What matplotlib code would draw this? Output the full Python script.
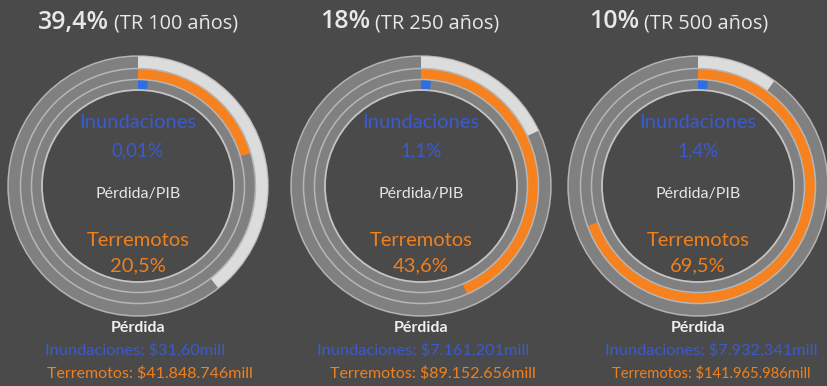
import matplotlib
matplotlib.use("Agg")
import matplotlib.pyplot as plt
from matplotlib.patches import Wedge, Circle

# data
prob_pct = ["39,4%", "18%", "10%"]
prob_vals = [39.4, 18.0, 10.0]
return_periods = [100, 250, 500]
terremotos_pib = [20.5, 43.6, 69.5]
inundaciones_pib = [0.01, 1.1, 1.4]
terremotos_txt = ["20,5%", "43,6%", "69,5%"]
inundaciones_txt = ["0,01%", "1,1%", "1,4%"]
perdida_inund = ["Inundaciones: $31,60mill", "Inundaciones: $7.161,201mill", "Inundaciones: $7.932,341mill"]
perdida_terr = ["Terremotos: $41.848.746mill", "Terremotos: $89.152.656mill", "Terremotos: $141.965.986mill"]

BG = "#4a4a4a"
RING = "#808080"
LIGHT = "#dcdcdc"
ORANGE = "#f5821f"
BLUE = "#2f6ee0"
EDGE = "#c4c4c4"
TXT_BLUE = "#3a5ad0"
TXT_OR = "#f0801e"

plt.rcParams['font.family'] = ['Lato', 'DejaVu Sans']

fig = plt.figure(figsize=(8.27, 3.86), dpi=100)
fig.patch.set_facecolor(BG)
ax = fig.add_axes([0, 0, 1, 1])
ax.set_xlim(0, 827)
ax.set_ylim(386, 0)
ax.set_aspect('equal')
ax.axis('off')

centers = [(138, 186), (421, 186), (698, 186)]
title_x = [38, 320, 589]
inund_x = [135, 423, 711]
terr_x = [47, 330, 612]
terr_size = [11.5, 11.5, 10.6]
R = 130


def ring(cx, cy, r_out, width, sweep, color):
    # clockwise from 12 o'clock (y axis inverted)
    ax.add_patch(Wedge((cx, cy), r_out, -90, 270, width=width, facecolor=RING, edgecolor='none'))
    if sweep > 0:
        ax.add_patch(Wedge((cx, cy), r_out, -90, -90 + sweep * 3.6, width=width,
                           facecolor=color, edgecolor='none'))


fig.canvas.draw()
renderer = fig.canvas.get_renderer()

for i, (cx, cy) in enumerate(centers):
    ax.add_patch(Circle((cx, cy), R, facecolor=RING, edgecolor='none'))
    ring(cx, cy, R, 12, prob_vals[i], LIGHT)
    ring(cx, cy, R - 13, 10, terremotos_pib[i], ORANGE)
    ring(cx, cy, R - 24, 10, max(inundaciones_pib[i], 1.5), BLUE)
    ax.add_patch(Circle((cx, cy), R - 34, facecolor=BG, edgecolor=EDGE, lw=1.3))
    for rr in (R, R - 12.5, R - 23.5):
        ax.add_patch(Circle((cx, cy), rr, facecolor='none', edgecolor=EDGE, lw=1.1, alpha=0.8))

    # title
    t1 = ax.text(title_x[i], 22, prob_pct[i], color="#e8e8e8", fontsize=18,
                 fontweight='semibold', family=['Open Sans', 'DejaVu Sans'],
                 ha='left', va='center')
    bb = t1.get_window_extent(renderer)
    x_end = ax.transData.inverted().transform((bb.x1, bb.y0))[0]
    ax.text(x_end + 5, 23, f"(TR {return_periods[i]} años)", color="#e8e8e8", fontsize=14.3,
            family=['Open Sans', 'DejaVu Sans'], ha='left', va='center')

    # inner labels
    ax.text(cx, 123, "Inundaciones", color=TXT_BLUE, fontsize=14.5, ha='center', va='center')
    ax.text(cx, 151, inundaciones_txt[i], color=TXT_BLUE, fontsize=13.5, ha='center', va='center')
    ax.text(cx, 194, "Pérdida/PIB", color="#e6e6e6", fontsize=11.5, ha='center', va='center')
    ax.text(cx, 240, "Terremotos", color=TXT_OR, fontsize=14.5, ha='center', va='center')
    ax.text(cx, 266, terremotos_txt[i], color=TXT_OR, fontsize=14.5, ha='center', va='center')

    # bottom labels
    ax.text(cx, 328, "Pérdida", color="#f0f0f0", fontsize=11.5, fontweight='bold',
            ha='center', va='center')
    ax.text(inund_x[i], 350, perdida_inund[i], color=TXT_BLUE, fontsize=11.8,
            ha='center', va='center')
    ax.text(terr_x[i], 373, perdida_terr[i], color=TXT_OR, fontsize=terr_size[i],
            ha='left', va='center')

fig.savefig("out.png", dpi=100, facecolor=BG)
